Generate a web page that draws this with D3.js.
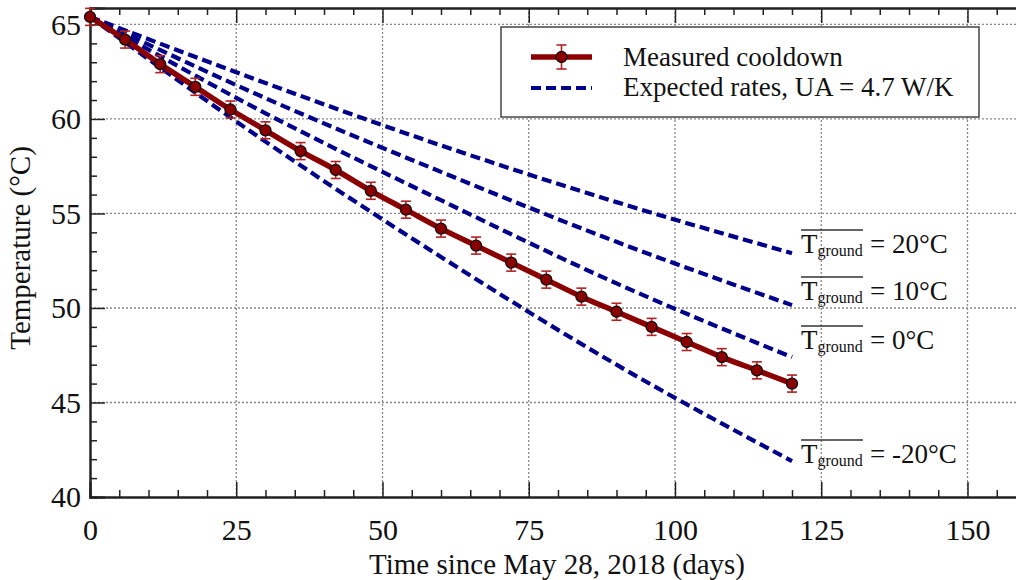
<!DOCTYPE html>
<meta charset="utf-8">
<head>
<style>
  body { margin: 0; background: #fff; }
  text { font-family: "Liberation Serif", "Times New Roman", serif; fill: #111; }
</style>
</head>
<body>
<script src="https://d3js.org/d3.v7.min.js"></script>
<div id="chart"></div>
<script>
// measured cooldown (days since May 28, 2018)
var days = [0, 6, 12, 18, 24, 30, 36, 42, 48, 54, 60, 66, 72, 78, 84, 90, 96, 102, 108, 114, 120];
var measured = [65.4, 64.2, 62.9, 61.7, 60.5, 59.4, 58.3, 57.3, 56.2, 55.2, 54.2, 53.3, 52.4, 51.5, 50.6, 49.8, 49.0, 48.2, 47.4, 46.7, 46.0];
var errHalf = 0.45;

// expected rates, read at a few days
var expDays = [0, 30, 60, 90, 120];
var groundTemps = ["20", "10", "0", "-20"];
var exp20 = [65.4, 61.9, 58.6, 55.6, 52.9];
var exp10 = [65.4, 61.1, 57.2, 53.5, 50.15];
var exp0 = [65.4, 60.3, 55.7, 51.3, 47.4];
var expM20 = [65.4, 58.8, 52.7, 47.0, 41.9];
var expSeries = [exp20, exp10, exp0, expM20];

var xTicks = [0, 25, 50, 75, 100, 125, 150];
var yTicks = [40, 45, 50, 55, 60, 65];

var W = 1016, H = 580;
var margin = {top: 8, left: 90},
    width = 936,
    height = 489;

var svg = d3.select("#chart").append("svg")
    .attr("width", W).attr("height", H);
var g = svg.append("g").attr("transform", "translate(" + margin.left + "," + margin.top + ")");

var x = d3.scaleLinear().domain([0, 160]).range([0, width]);
var y = d3.scaleLinear().domain([40, 65.87]).range([height, 0]);

// grid
g.append("g").selectAll("line").data(xTicks.filter(function(d){ return d > 0; }))
  .enter().append("line")
    .attr("x1", function(d){ return x(d); }).attr("x2", function(d){ return x(d); })
    .attr("y1", 0).attr("y2", height)
    .attr("stroke", "#888").attr("stroke-width", 1.3).attr("stroke-dasharray", "2,2");
g.append("g").selectAll("line").data(yTicks.filter(function(d){ return d > 40; }))
  .enter().append("line")
    .attr("y1", function(d){ return y(d); }).attr("y2", function(d){ return y(d); })
    .attr("x1", 0).attr("x2", width)
    .attr("stroke", "#888").attr("stroke-width", 1.3).attr("stroke-dasharray", "2,2");

// axes with inward ticks, major + minor
var xMinor = d3.range(0, 161, 5).filter(function(d){ return d % 25 !== 0; });
var yMinor = d3.range(40, 66, 1).filter(function(d){ return d % 5 !== 0; });

g.append("g").attr("transform", "translate(0," + height + ")")
  .call(d3.axisBottom(x).tickValues(xMinor).tickSize(-7).tickFormat(""));
g.append("g").attr("transform", "translate(0," + height + ")")
  .call(d3.axisBottom(x).tickValues(xTicks).tickSize(-15).tickPadding(22));
g.append("g")
  .call(d3.axisTop(x).tickValues(xMinor).tickSize(-7).tickFormat(""));
g.append("g")
  .call(d3.axisTop(x).tickValues(xTicks).tickSize(-15).tickFormat(""));
g.append("g")
  .call(d3.axisLeft(y).tickValues(yMinor).tickSize(-7).tickFormat(""));
g.append("g")
  .call(d3.axisLeft(y).tickValues(yTicks).tickSize(-15).tickPadding(9));

g.selectAll(".domain").attr("stroke", "#222").attr("stroke-width", 2);
g.selectAll(".tick line").attr("stroke", "#222").attr("stroke-width", 1.5);
g.selectAll("g").attr("font-family", "Liberation Serif").attr("font-size", 30);
g.selectAll(".tick text").attr("fill", "#111");

// expected dashed lines
var line = d3.line()
    .x(function(d){ return x(d[0]); })
    .y(function(d){ return y(d[1]); })
    .curve(d3.curveMonotoneX);

expSeries.forEach(function(vals) {
  g.append("path")
    .datum(expDays.map(function(d, i){ return [d, vals[i]]; }))
    .attr("d", line)
    .attr("fill", "none")
    .attr("stroke", "#00008b")
    .attr("stroke-width", 4.2)
    .attr("stroke-dasharray", "10,5");
});

// measured line
var pts = days.map(function(d, i){ return [d, measured[i]]; });
g.append("path").datum(pts).attr("d", line)
  .attr("fill", "none").attr("stroke", "#8b0000").attr("stroke-width", 5.5);

// error bars
var eb = g.append("g").attr("stroke", "#b22222").attr("stroke-width", 1.6);
pts.forEach(function(p) {
  var cx = x(p[0]), y1 = y(p[1] + errHalf), y2 = y(p[1] - errHalf);
  eb.append("line").attr("x1", cx).attr("x2", cx).attr("y1", y1).attr("y2", y2);
  eb.append("line").attr("x1", cx - 5).attr("x2", cx + 5).attr("y1", y1).attr("y2", y1);
  eb.append("line").attr("x1", cx - 5).attr("x2", cx + 5).attr("y1", y2).attr("y2", y2);
});

g.selectAll(".pt").data(pts).enter().append("circle")
  .attr("class", "pt")
  .attr("cx", function(d){ return x(d[0]); })
  .attr("cy", function(d){ return y(d[1]); })
  .attr("r", 5.5)
  .attr("fill", "#8b0000").attr("stroke", "#111").attr("stroke-width", 1.3);

// ground temperature labels at end of each dashed line
var labelY = [253, 300, 349, 463];
groundTemps.forEach(function(t, i) {
  var lx = 801, ly = labelY[i];
  var lab = svg.append("g");
  lab.append("text").attr("x", lx).attr("y", ly).attr("font-size", "27px").text("T");
  lab.append("text").attr("x", lx + 16.5).attr("y", ly + 2.5).attr("font-size", "16px").text("ground");
  lab.append("line").attr("x1", lx).attr("x2", lx + 62).attr("y1", ly - 23).attr("y2", ly - 23)
    .attr("stroke", "#333").attr("stroke-width", 1.5);
  lab.append("text").attr("x", lx + 69).attr("y", ly).attr("font-size", "27px").text("= " + t + "°C");
});

// legend
var leg = svg.append("g");
leg.append("rect").attr("x", 501).attr("y", 27).attr("width", 478).attr("height", 90)
  .attr("fill", "#fff").attr("stroke", "#444").attr("stroke-width", 1.5);
leg.append("line").attr("x1", 531).attr("x2", 592).attr("y1", 57).attr("y2", 57)
  .attr("stroke", "#8b0000").attr("stroke-width", 5.5);
leg.append("line").attr("x1", 561.5).attr("x2", 561.5).attr("y1", 45).attr("y2", 69)
  .attr("stroke", "#b22222").attr("stroke-width", 1.6);
leg.append("line").attr("x1", 556.5).attr("x2", 566.5).attr("y1", 45).attr("y2", 45)
  .attr("stroke", "#b22222").attr("stroke-width", 1.6);
leg.append("line").attr("x1", 556.5).attr("x2", 566.5).attr("y1", 69).attr("y2", 69)
  .attr("stroke", "#b22222").attr("stroke-width", 1.6);
leg.append("circle").attr("cx", 561.5).attr("cy", 57).attr("r", 5.5)
  .attr("fill", "#8b0000").attr("stroke", "#111").attr("stroke-width", 1.3);
leg.append("line").attr("x1", 531).attr("x2", 592).attr("y1", 88).attr("y2", 88)
  .attr("stroke", "#00008b").attr("stroke-width", 4.2).attr("stroke-dasharray", "10,5");
leg.append("text").attr("x", 623).attr("y", 66).attr("font-size", "27px").text("Measured cooldown");
leg.append("text").attr("x", 623).attr("y", 96).attr("font-size", "27px").text("Expected rates, UA = 4.7 W/K");

// axis titles
svg.append("text").attr("x", 557).attr("y", 574)
  .attr("text-anchor", "middle").attr("font-size", "29px")
  .text("Time since May 28, 2018 (days)");
svg.append("text").attr("transform", "translate(30,248) rotate(-90)")
  .attr("text-anchor", "middle").attr("font-size", "29px")
  .text("Temperature (°C)");
</script>
</body>
